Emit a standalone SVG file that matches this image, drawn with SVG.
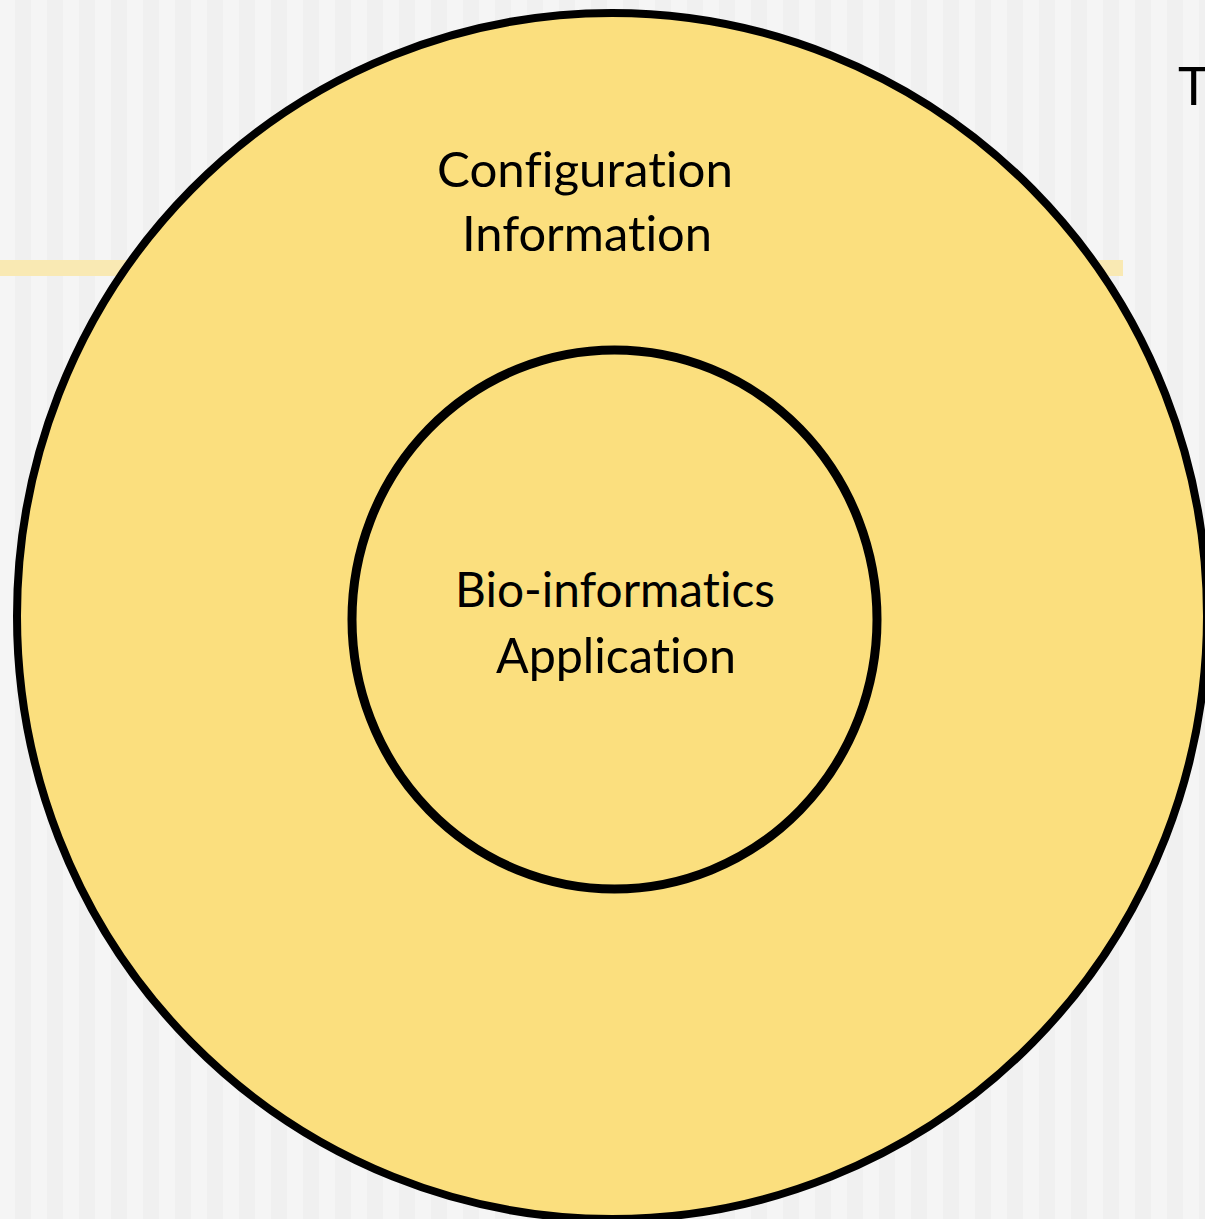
<svg xmlns="http://www.w3.org/2000/svg" width="1205" height="1219" viewBox="0 0 1205 1219">
  <style>
    .ring { fill: #fbdf7e; stroke: #000; }
    .lbl { font-family: Lato, "Open Sans", "Liberation Sans", sans-serif; font-size: 48px; fill: #000; text-anchor: middle; font-variant-ligatures: none; }
  </style>
  <defs>
    <pattern id="stripes" x="0" y="0" width="32" height="32" patternUnits="userSpaceOnUse">
      <rect x="0" y="0" width="32" height="32" fill="#f5f5f5"/>
      <rect x="15" y="0" width="16" height="32" fill="#f0f0f0"/>
    </pattern>
  </defs>
  <rect x="0" y="0" width="1205" height="1219" fill="url(#stripes)"/>
  <rect x="0" y="260" width="1123" height="16" fill="#f9e9b3"/>
  <text x="1178" y="105" style="font-family: Lato, 'Liberation Sans', sans-serif; font-size: 53px; fill: #000;">T</text>
  <g id="outer">
    <ellipse class="ring" cx="612" cy="616" rx="595" ry="603" stroke-width="8"/>
    <text class="lbl" x="585" y="187" textLength="296" lengthAdjust="spacingAndGlyphs">Configuration</text>
    <text class="lbl" x="587" y="251" textLength="250" lengthAdjust="spacingAndGlyphs">Information</text>
  </g>
  <g id="inner">
    <ellipse class="ring" cx="614.5" cy="619.5" rx="262.5" ry="269.5" stroke-width="9"/>
    <text class="lbl" x="615" y="607" textLength="320" lengthAdjust="spacingAndGlyphs">Bio-informatics</text>
    <text class="lbl" x="616" y="673" textLength="240" lengthAdjust="spacingAndGlyphs">Application</text>
  </g>
  <g id="connectors"></g>
</svg>
